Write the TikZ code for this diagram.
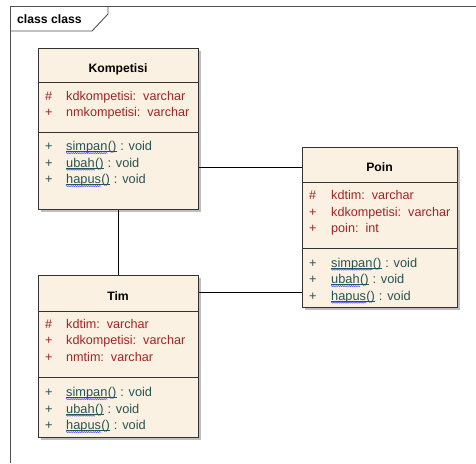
\documentclass[tikz,border=0pt]{standalone}
\usepackage{fontspec}
\setmainfont{Liberation Sans}
\usetikzlibrary{decorations.pathmorphing}
\definecolor{classfill}{RGB}{251,241,226}
\definecolor{attrcol}{RGB}{160,36,36}
\definecolor{methcol}{RGB}{38,84,84}
\definecolor{framecol}{RGB}{80,80,80}
\definecolor{edgecol}{RGB}{50,50,50}
\definecolor{shadowcol}{RGB}{190,190,190}
\tikzset{
  classbox/.style={draw=edgecol, line width=1.2pt, fill=classfill, inner sep=0pt, anchor=north west},
  classshadow/.style={fill=shadowcol, draw=none},
  sepline/.style={draw=edgecol, line width=1pt},
  title/.style={font=\fontsize{12.2}{14}\selectfont\bfseries, inner sep=0pt, anchor=base},
  attrtxt/.style={font=\fontsize{12.6}{15}\selectfont, text=attrcol, inner sep=0pt, anchor=base west},
  methtxt/.style={font=\fontsize{12.8}{15}\selectfont, text=methcol, inner sep=0pt, anchor=base west},
  squig/.style={draw=blue!70!white, line width=0.5pt, decorate, decoration={snake, amplitude=0.6pt, segment length=2.2pt}},
  assoc/.style={draw=black, line width=0.9pt},
  framestyle/.style={draw=framecol, line width=0.9pt}
}
% one operation row: marker, underlined name with spelling squiggle, return type
\newcommand\opRow[5]{% #1 name prefix, #2 marker x, #3 text x, #4 baseline y, #5 operation name
  \node[methtxt] (#1m) at (#2,#4) {+};
  \node[methtxt] (#1w) at (#3,#4) {#5};
  \node[methtxt] (#1p) at (#1w.base east) {()};
  \node[methtxt] (#1v) at (#1p.base east) {\ : void};
  \draw[methcol, line width=0.6pt] ([yshift=-1.2pt]#1w.base west) -- ([yshift=-1.2pt]#1p.base east);
  \draw[squig] ([yshift=-2.6pt]#1w.base west) -- ([yshift=-2.6pt]#1w.base east);
}
\begin{document}
\begin{tikzpicture}[x=1pt,y=-1pt]
\useasboundingbox (0,0) rectangle (476,463);

% diagram frame with its name tab
\draw[framestyle] (10,463) -- (10,6) -- (476,6);
\draw[framestyle] (10,31) -- (92,31) -- (108,14) -- (108,6);
\node[font=\fontsize{12.2}{14}\selectfont\bfseries, anchor=base west, inner sep=0pt] (framelabel) at (17,23) {class class};

% shadows
\fill[classshadow] (41,51) rectangle (201,212);
\fill[classshadow] (305,150) rectangle (460,310);
\fill[classshadow] (41,278) rectangle (201,440);

% association between Kompetisi and Tim
\draw[assoc] (118,209) -- (118,275);

% class boxes
\node[classbox, minimum width=160pt, minimum height=161pt] (komp) at (38,48) {};
\node[classbox, minimum width=155pt, minimum height=160pt] (poin) at (302,147) {};
\node[classbox, minimum width=160pt, minimum height=162pt] (tim) at (38,275) {};

\coordinate (ka) at (0,167);
\coordinate (ta) at (0,292);
\draw[assoc] (komp.east |- ka) -- (poin.west |- ka);
\draw[assoc] (tim.east |- ta) -- (poin.west |- ta);

% compartment separators
\draw[sepline] (komp.west |- 0,82) -- (komp.east |- 0,82);
\draw[sepline] (komp.west |- 0,132) -- (komp.east |- 0,132);
\draw[sepline] (poin.west |- 0,182) -- (poin.east |- 0,182);
\draw[sepline] (poin.west |- 0,248) -- (poin.east |- 0,248);
\draw[sepline] (tim.west |- 0,311) -- (tim.east |- 0,311);
\draw[sepline] (tim.west |- 0,377) -- (tim.east |- 0,377);

% Kompetisi
\node[title] (kt) at (118,72) {Kompetisi};
\node[attrtxt] (ka1m) at (45,100) {\#};
\node[attrtxt] (ka1) at (66,100) {kdkompetisi:\ \ varchar};
\node[attrtxt] (ka2m) at (45,116.5) {+};
\node[attrtxt] (ka2) at (66,116.5) {nmkompetisi:\ \ varchar};
\opRow{ko1}{45}{66}{150.5}{simpan}
\opRow{ko2}{45}{66}{167}{ubah}
\opRow{ko3}{45}{66}{183.5}{hapus}

% Poin
\node[title] (pt) at (379.5,171) {Poin};
\node[attrtxt] (pa1m) at (309,199.5) {\#};
\node[attrtxt] (pa1) at (331,199.5) {kdtim:\ \ varchar};
\node[attrtxt] (pa2m) at (309,216) {+};
\node[attrtxt] (pa2) at (331,216) {kdkompetisi:\ \ varchar};
\node[attrtxt] (pa3m) at (309,232.5) {+};
\node[attrtxt] (pa3) at (331,232.5) {poin:\ \ int};
\opRow{po1}{309}{331}{267}{simpan}
\opRow{po2}{309}{331}{283.5}{ubah}
\opRow{po3}{309}{331}{300}{hapus}

% Tim
\node[title] (tt) at (118,300) {Tim};
\node[attrtxt] (ta1m) at (45,328) {\#};
\node[attrtxt] (ta1) at (66,328) {kdtim:\ \ varchar};
\node[attrtxt] (ta2m) at (45,344.5) {+};
\node[attrtxt] (ta2) at (66,344.5) {kdkompetisi:\ \ varchar};
\node[attrtxt] (ta3m) at (45,361) {+};
\node[attrtxt] (ta3) at (66,361) {nmtim:\ \ varchar};
\opRow{to1}{45}{66}{396.5}{simpan}
\opRow{to2}{45}{66}{413}{ubah}
\opRow{to3}{45}{66}{429.5}{hapus}
\end{tikzpicture}
\end{document}
